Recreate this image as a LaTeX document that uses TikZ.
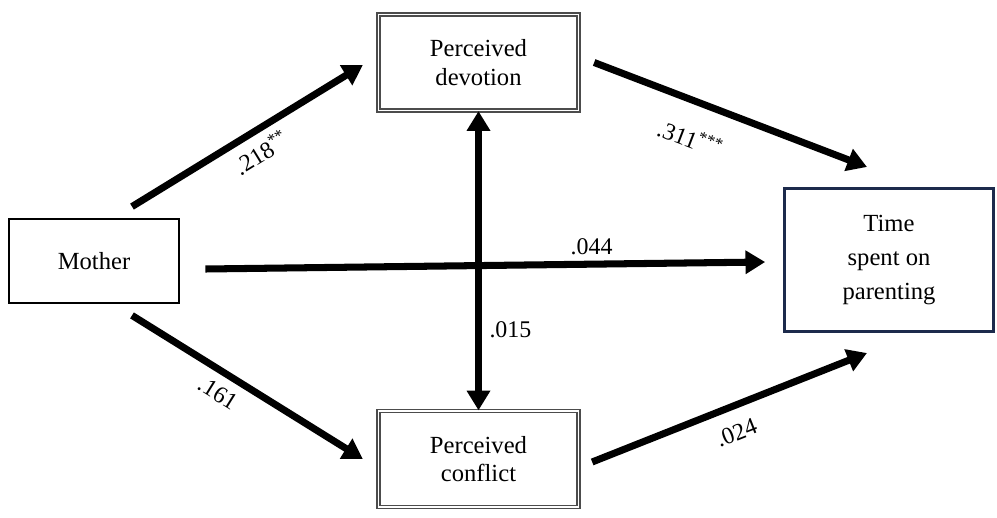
\documentclass[tikz,border=0pt]{standalone}
\usepackage{fontspec}
\setmainfont{Liberation Serif}
\usetikzlibrary{arrows.meta}
\definecolor{navy}{RGB}{28,42,76}
\begin{document}
\begin{tikzpicture}[x=0.025cm,y=-0.025cm,
  box/.style={draw=black!70,double=white,double distance=1.2pt,line width=0.9pt,fill=white,align=center,
    minimum width=5cm,minimum height=2.4cm,font=\fontsize{17.5}{20.5}\selectfont},
  path/.style={line width=5pt,-{Triangle[length=14pt,width=16pt]}},
  coef/.style={font=\fontsize{17}{20}\selectfont}]
\useasboundingbox (0,0) rectangle (997,518);

\node[draw,line width=2pt,minimum width=4.25cm,minimum height=2.1cm,font=\fontsize{17.5}{20.5}\selectfont] (mother) at (94,261) {Mother};
\node[box] (devotion) at (478.5,62.5) {Perceived\\devotion};
\node[box] (conflict) at (478.5,459) {Perceived\\conflict};
\node[draw=navy,line width=2pt,align=center,minimum width=5.22cm,minimum height=3.58cm,font=\fontsize{17.5}{24}\selectfont] (time) at (889,260) {Time\\spent on\\parenting};

\draw[path] ([shift={(38,-11)}]mother.north) -- ([shift={(-15,2.5)}]devotion.west) node[coef,pos=0.51,sloped,below=2pt] {.218\textsuperscript{**}};
\draw[path] ([shift={(38,11)}]mother.south) -- ([shift={(-15,0)}]conflict.west) node[coef,pos=0.42,sloped,below=3pt] {.161};
\draw[path] ([shift={(25,8)}]mother.east) -- ([shift={(-18,2)}]time.west) node[coef,pos=0.69,above=1pt] {.044};
\draw[path] ([shift={(15,0)}]devotion.east) -- ([shift={(-22,-20)}]time.north) node[coef,pos=0.40,sloped,below=13pt] {.311\textsuperscript{***}};
\draw[path] ([shift={(13,3)}]conflict.east) -- ([shift={(-22,20)}]time.south) node[coef,pos=0.49,sloped,below=7pt] {.024};
\draw[path,{Triangle[length=14pt,width=16pt]}-{Triangle[length=14pt,width=16pt]}] (devotion.south) -- (conflict.north) node[coef,pos=0.73,right=2pt] {.015};
\end{tikzpicture}
\end{document}
